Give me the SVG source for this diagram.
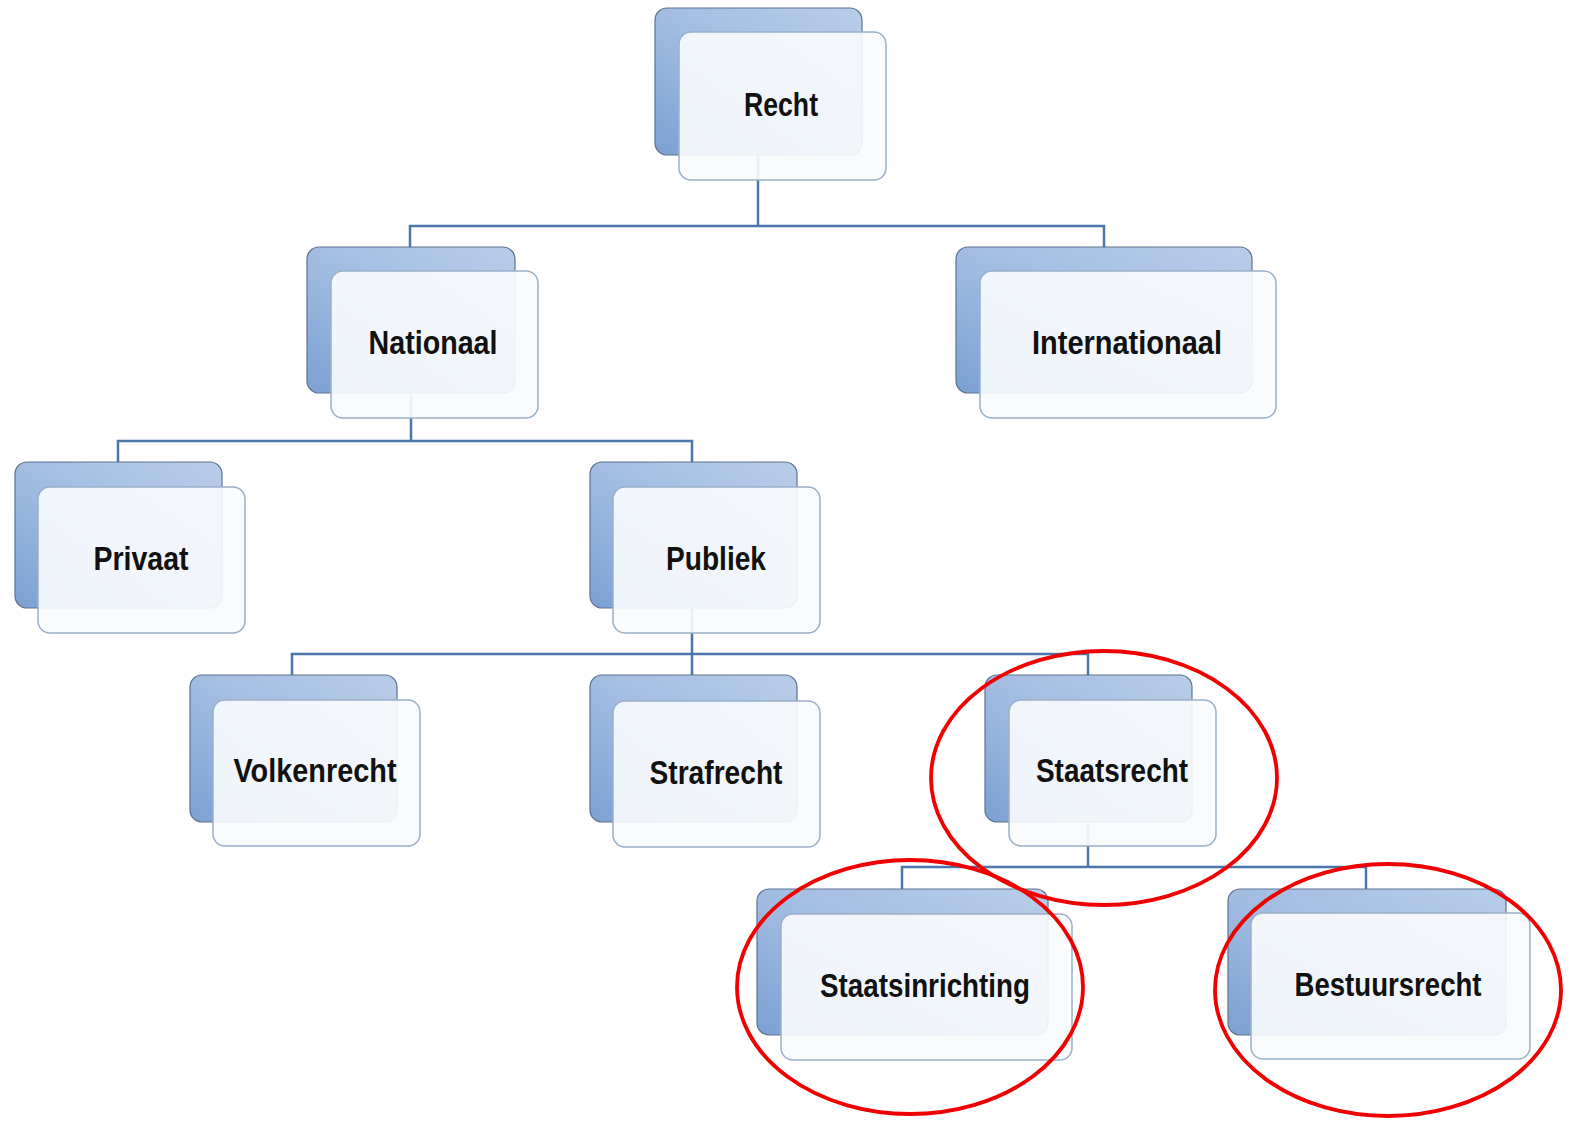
<svg xmlns="http://www.w3.org/2000/svg" width="1579" height="1125" viewBox="0 0 1579 1125">
<defs>
<linearGradient id="bg" x1="0" y1="1" x2="1" y2="0">
<stop offset="0" stop-color="#7ba0d2"/>
<stop offset="0.5" stop-color="#a3bde2"/>
<stop offset="1" stop-color="#b8cde8"/>
</linearGradient>
<style>
.back{fill:url(#bg);stroke:#5d7391;stroke-width:1.2}
.front{fill:#f9fbfd;fill-opacity:0.92;stroke:#9ab0c9;stroke-width:1.5}
.lbl{font-family:"Liberation Sans",Arial,sans-serif;font-weight:bold;font-size:33px;fill:#111;text-anchor:middle}
.con{fill:none;stroke:#4a75ad;stroke-width:2.5}
.ring{fill:none;stroke:#f00000;stroke-width:3.8}
</style>
</defs>
<rect width="1579" height="1125" fill="#ffffff"/>
<g id="connectors">
<path class="con" d="M758 155V226M410 247V226H1104V247"/>
<path class="con" d="M411 393V441M118 462V441H692V462"/>
<path class="con" d="M692 608V654M292 675V654H1088V675M692 654V675"/>
<path class="con" d="M1088 822V867M902 889V867H1366V889"/>
</g>
<g id="n-recht">
<rect class="back" x="655" y="8" width="207" height="147" rx="12"/>
<rect class="front" x="679" y="32" width="207" height="148" rx="12"/>
<text class="lbl" x="781" y="116" textLength="74" lengthAdjust="spacingAndGlyphs">Recht</text>
</g>
<g id="n-nationaal">
<rect class="back" x="307" y="247" width="208" height="146" rx="12"/>
<rect class="front" x="331" y="271" width="207" height="147" rx="12"/>
<text class="lbl" x="433" y="354" textLength="129" lengthAdjust="spacingAndGlyphs">Nationaal</text>
</g>
<g id="n-internationaal">
<rect class="back" x="956" y="247" width="296" height="146" rx="12"/>
<rect class="front" x="980" y="271" width="296" height="147" rx="12"/>
<text class="lbl" x="1127" y="354" textLength="190" lengthAdjust="spacingAndGlyphs">Internationaal</text>
</g>
<g id="n-privaat">
<rect class="back" x="15" y="462" width="207" height="146" rx="12"/>
<rect class="front" x="38" y="487" width="207" height="146" rx="12"/>
<text class="lbl" x="141" y="570" textLength="95" lengthAdjust="spacingAndGlyphs">Privaat</text>
</g>
<g id="n-publiek">
<rect class="back" x="590" y="462" width="207" height="146" rx="12"/>
<rect class="front" x="613" y="487" width="207" height="146" rx="12"/>
<text class="lbl" x="716" y="570" textLength="100" lengthAdjust="spacingAndGlyphs">Publiek</text>
</g>
<g id="n-volkenrecht">
<rect class="back" x="190" y="675" width="207" height="147" rx="12"/>
<rect class="front" x="213" y="700" width="207" height="146" rx="12"/>
<text class="lbl" x="315" y="782" textLength="163" lengthAdjust="spacingAndGlyphs">Volkenrecht</text>
</g>
<g id="n-strafrecht">
<rect class="back" x="590" y="675" width="207" height="147" rx="12"/>
<rect class="front" x="613" y="701" width="207" height="146" rx="12"/>
<text class="lbl" x="716" y="784" textLength="133" lengthAdjust="spacingAndGlyphs">Strafrecht</text>
</g>
<g id="n-staatsrecht">
<rect class="back" x="985" y="675" width="207" height="147" rx="12"/>
<rect class="front" x="1009" y="700" width="207" height="146" rx="12"/>
<text class="lbl" x="1112" y="782" textLength="152" lengthAdjust="spacingAndGlyphs">Staatsrecht</text>
</g>
<g id="n-staatsinrichting">
<rect class="back" x="757" y="889" width="291" height="146" rx="12"/>
<rect class="front" x="781" y="914" width="291" height="146" rx="12"/>
<text class="lbl" x="925" y="997" textLength="210" lengthAdjust="spacingAndGlyphs">Staatsinrichting</text>
</g>
<g id="n-bestuursrecht">
<rect class="back" x="1228" y="889" width="278" height="146" rx="12"/>
<rect class="front" x="1251" y="913" width="279" height="146" rx="12"/>
<text class="lbl" x="1388" y="996" textLength="187" lengthAdjust="spacingAndGlyphs">Bestuursrecht</text>
</g>
<g id="highlights">
<ellipse class="ring" cx="1104" cy="778" rx="173" ry="127"/>
<ellipse class="ring" cx="910" cy="987" rx="173" ry="127"/>
<ellipse class="ring" cx="1388" cy="990" rx="173" ry="126"/>
</g>
</svg>
